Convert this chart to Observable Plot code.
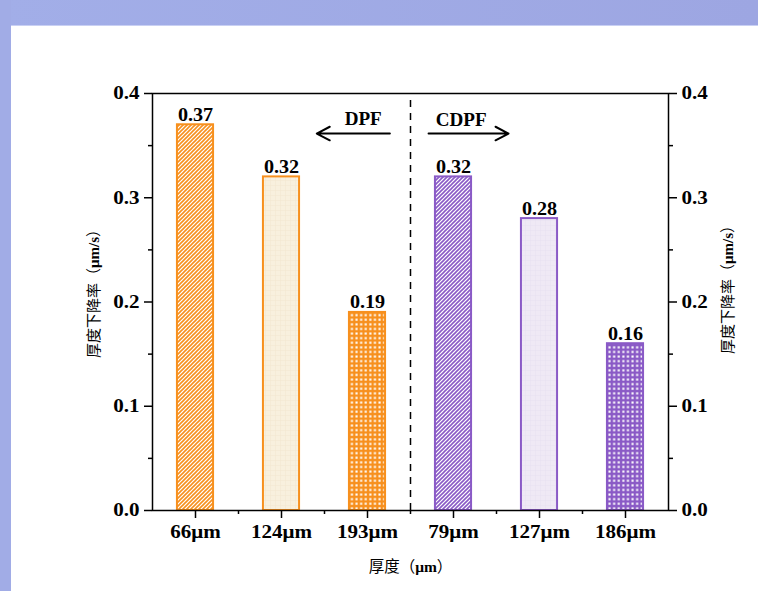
<!DOCTYPE html>
<html>
<head>
<meta charset="utf-8">
<script src="https://cdn.jsdelivr.net/npm/d3@7"></script>
<script src="https://cdn.jsdelivr.net/npm/@observablehq/plot@0.6"></script>
<style>
  html, body { margin: 0; padding: 0; }
  body { width: 758px; height: 591px; position: relative; overflow: hidden; background: #ffffff; }
  .band-top { position: absolute; left: 0; top: 0; width: 758px; height: 26px; background: linear-gradient(90deg, #a2aee8, #9da6e2); border-bottom: 1px solid #c9d0f3; box-sizing: border-box; }
  .band-left { position: absolute; left: 0; top: 0; width: 11px; height: 591px; background: #a1ace6; }
  #chart { position: absolute; left: 0; top: 0; }
</style>
</head>
<body>
<div class="band-top"></div>
<div class="band-left"></div>
<div id="chart"></div>
<script>
// ---- data ----
const categories = ["66μm", "124μm", "193μm", "79μm", "127μm", "186μm"];
const values = [0.37, 0.32, 0.19, 0.32, 0.28, 0.16];
const groups = ["DPF", "DPF", "DPF", "CDPF", "CDPF", "CDPF"];
const patterns = ["hatch", "light", "dots", "hatch", "light", "dots"];
const yTicks = [0, 0.1, 0.2, 0.3, 0.4];
const yMinorTicks = [0.05, 0.15, 0.25, 0.35];
const xTitleParts = ["厚度（", "μm", "）"];
const yTitleParts = ["厚度下降率（", "μm/s", "）"];
const groupLabels = ["DPF", "CDPF"];
const xTitle = xTitleParts.join("");
const yTitle = yTitleParts.join("");

// ---- styling ----
const groupColors = {DPF: "#f7901e", CDPF: "#8a5ac6"};
const lightColors = {DPF: "#f8f0de", CDPF: "#efe9f5"};
const gridColors = {DPF: "#f3e7d0", CDPF: "#e8e1f1"};
const barHalf = 0.21;
const fontFam = "'Liberation Serif', 'Times New Roman', 'Noto Sans CJK SC', serif";
const cjkFam = "'Noto Sans CJK SC', sans-serif";

// annotation placement (in scale units)
const annotations = [
  {label: groupLabels[0], tx: 1.95, ty: 0.375, ax1: 2.26, ax2: 1.41, ay: 0.3616},
  {label: groupLabels[1], tx: 3.09, ty: 0.374, ax1: 2.71, ax2: 3.64, ay: 0.3616}
];

const rows = categories.map((c, i) => ({
  i, cat: c, value: values[i], group: groups[i],
  fill: `url(#${patterns[i]}-${groups[i]})`,
  stroke: groupColors[groups[i]]
}));

const svg = Plot.plot({
  width: 758,
  height: 591,
  marginLeft: 152,
  marginRight: 90,
  marginTop: 93,
  marginBottom: 81,
  style: `background: transparent; font-family: ${fontFam}; font-size: 18px; font-weight: bold; color: black; overflow: visible;`,
  x: {domain: [-0.5, categories.length - 0.5]},
  y: {domain: [0, 0.4]},
  color: {type: "identity"},
  marks: [
    Plot.rectY(rows, {x1: d => d.i - barHalf, x2: d => d.i + barHalf, y: "value", fill: "fill", stroke: "stroke", strokeWidth: 2}),
    Plot.text(rows, {x: "i", y: "value", text: d => d.value.toFixed(2), dy: -4, lineAnchor: "bottom", fontSize: 19, fontWeight: "bold"}),
    Plot.ruleX([ (categories.length - 1) / 2 ], {y1: 0, y2: 0.4, strokeDasharray: "7,6", strokeWidth: 1.5, stroke: "black"}),
    Plot.arrow(annotations, {x1: "ax1", x2: "ax2", y1: "ay", y2: "ay", stroke: "black", strokeWidth: 2, headLength: 11, headAngle: 55}),
    Plot.text(annotations, {x: "tx", y: "ty", text: "label", fontSize: 18, fontWeight: "bold"}),
    Plot.frame({stroke: "black", strokeWidth: 1.5}),
    Plot.axisY({anchor: "left", ticks: yTicks, tickSize: 8, tickPadding: 5, tickFormat: d3.format(".1f"), label: null, strokeWidth: 1.5}),
    Plot.axisY({anchor: "left", ticks: yMinorTicks, tickSize: 4, tickFormat: () => "", label: null, strokeWidth: 1.5}),
    Plot.axisY({anchor: "right", ticks: yTicks, tickSize: 8, tickPadding: 5, tickFormat: d3.format(".1f"), label: null, strokeWidth: 1.5}),
    Plot.axisY({anchor: "right", ticks: yMinorTicks, tickSize: 4, tickFormat: () => "", label: null, strokeWidth: 1.5}),
    Plot.axisX({anchor: "bottom", ticks: d3.range(categories.length), tickSize: 8, tickPadding: 7, tickFormat: i => categories[i], label: null, strokeWidth: 1.5}),
    Plot.axisX({anchor: "bottom", ticks: d3.range(categories.length - 1).map(i => i + 0.5), tickSize: 4, tickFormat: () => "", label: null, strokeWidth: 1.5}),
    Plot.text([yTitle], {text: d => d, frameAnchor: "left", textAnchor: "middle", rotate: -90, dx: -58, dy: -12, fontSize: 15, fontWeight: "normal", fontFamily: cjkFam}),
    Plot.text([yTitle], {text: d => d, frameAnchor: "right", textAnchor: "middle", rotate: -90, dx: 60, dy: -16, fontSize: 15, fontWeight: "normal", fontFamily: cjkFam}),
    Plot.text([xTitle], {text: d => d, frameAnchor: "bottom", dy: 61, fontSize: 15.5, fontWeight: "normal", fontFamily: cjkFam})
  ]
});

// patterns
const defs = d3.select(svg).insert("defs", ":first-child");
for (const g of Object.keys(groupColors)) {
  const c = groupColors[g];
  const h = defs.append("pattern").attr("id", `hatch-${g}`).attr("patternUnits", "userSpaceOnUse").attr("width", 4).attr("height", 4);
  h.append("rect").attr("width", 4).attr("height", 4).attr("fill", "white");
  h.append("path").attr("d", "M-1,1 L1,-1 M0,4 L4,0 M3,5 L5,3").attr("stroke", c).attr("stroke-width", 1.6);
  const l = defs.append("pattern").attr("id", `light-${g}`).attr("patternUnits", "userSpaceOnUse").attr("width", 5).attr("height", 5);
  l.append("rect").attr("width", 5).attr("height", 5).attr("fill", lightColors[g]);
  l.append("path").attr("d", "M0,0.3 H5 M0.3,0 V5").attr("stroke", gridColors[g]).attr("stroke-width", 0.6);
  const d = defs.append("pattern").attr("id", `dots-${g}`).attr("patternUnits", "userSpaceOnUse").attr("width", 4.6).attr("height", 4.6);
  d.append("rect").attr("width", 4.6).attr("height", 4.6).attr("fill", c);
  d.append("rect").attr("x", 1.3).attr("y", 1.3).attr("width", 2.1).attr("height", 2.1).attr("fill", "white");
}

// mixed-font titles: CJK in sans, unit in bold serif
d3.select(svg).selectAll("text").each(function() {
  const t = this.textContent;
  const parts = t === yTitle ? yTitleParts : t === xTitle ? xTitleParts : null;
  if (!parts) return;
  const sel = d3.select(this.querySelector("tspan") || this);
  sel.text(null);
  parts.forEach((p, k) => {
    const ts = sel.append("tspan").text(p);
    if (k === 1) ts.attr("font-family", fontFam).attr("font-weight", "bold");
  });
});

document.getElementById("chart").appendChild(svg);

// the reference's lettering is slightly wide: stretch tick labels horizontally
const tickText = new Set([...categories, ...yTicks.map(d3.format(".1f"))]);
const labelText = new Set([...values.map(v => v.toFixed(2)), ...groupLabels]);
d3.select(svg).selectAll("text").each(function() {
  if (this.querySelector("tspan")) return;
  const t = this.textContent;
  const f = tickText.has(t) ? 1.17 : labelText.has(t) ? 1.06 : null;
  if (!f) return;
  const L = this.getComputedTextLength();
  this.setAttribute("textLength", (L * f).toFixed(2));
  this.setAttribute("lengthAdjust", "spacingAndGlyphs");
});
</script>
</body>
</html>
